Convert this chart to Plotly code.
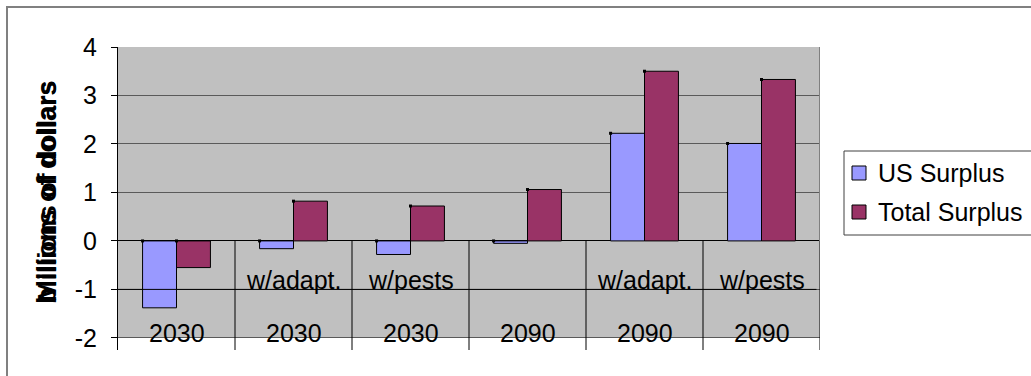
import plotly.graph_objects as go

# Scenario categories (two-level labels) and surplus values, billions of dollars
scenario = ["", "w/adapt.", "w/pests", "", "w/adapt.", "w/pests"]
year = ["2030", "2030", "2030", "2090", "2090", "2090"]
us_surplus = [-1.38, -0.16, -0.28, -0.05, 2.22, 2.01]
total_surplus = [-0.55, 0.82, 0.72, 1.06, 3.50, 3.33]
y_ticks = [-2, -1, 0, 1, 2, 3, 4]
y_tick_text = ["-2", "-1", "0", "1", "2", "3", "4"]
series_names = ["US Surplus", "Total Surplus"]

FONT = "Liberation Sans, Arial, sans-serif"
BLUE = "#9999FF"
PLUM = "#993366"
BAR_W = 0.29
pos = list(range(len(year)))

W, H = 1031, 376
ML, MR, MT, MB = 118, 211, 47, 26
PW, PH = W - ML - MR, H - MT - MB


def px_x(x):
    return (x - ML) / PW


def px_y(y):
    return (H - MB - y) / PH


fig = go.Figure()
fig.add_bar(x=pos, y=us_surplus, name=series_names[0],
            marker=dict(color=BLUE, line=dict(color="black", width=1)))
fig.add_bar(x=pos, y=total_surplus, name=series_names[1],
            marker=dict(color=PLUM, line=dict(color="black", width=1)))

# small handle squares at the upper-left corner of every bar
hx = [p - BAR_W for p in pos] + [p for p in pos]
hy = [max(v, 0) for v in us_surplus] + [max(v, 0) for v in total_surplus]
fig.add_scatter(x=hx, y=hy, mode="markers", showlegend=False, hoverinfo="skip",
                marker=dict(symbol="square", size=3, color="black"), cliponaxis=False)

shapes = [
    # grey plotting area
    dict(type="rect", xref="x", yref="y", x0=-0.5, x1=5.5, y0=-2, y1=4,
         fillcolor="#C0C0C0", line=dict(width=0), layer="below"),
    # right-hand edge shading of the plotting area
    dict(type="line", xref="x", yref="y", x0=5.5, x1=5.5, y0=0, y1=4,
         line=dict(color="#808080", width=2)),
    # separator between the two label rows
    dict(type="line", xref="x", yref="y", x0=-0.5, x1=5.47, y0=-1, y1=-1,
         line=dict(color="black", width=1)),
    # chart-area frame
    dict(type="rect", xref="paper", yref="paper", x0=px_x(7), x1=1.6, y0=-0.6, y1=px_y(7),
         line=dict(color="#808080", width=2), fillcolor="rgba(0,0,0,0)", layer="below"),
    # legend box
    dict(type="rect", xref="paper", yref="paper", x0=px_x(844), x1=px_x(1040),
         y0=px_y(235), y1=px_y(151), line=dict(color="#404040", width=1), fillcolor="white"),
]
# category dividers running below the zero line
for p in pos:
    shapes.append(dict(type="line", xref="x", yref="y", x0=p + 0.5, x1=p + 0.5, y0=0, y1=-2.25,
                       line=dict(color="black", width=1)))

annotations = []
for p, s, yr in zip(pos, scenario, year):
    if s:
        annotations.append(dict(x=p, y=-0.81, xref="x", yref="y", text=s, showarrow=False,
                                font=dict(family=FONT, size=25, color="black"), yanchor="middle"))
    annotations.append(dict(x=p, y=-1.89, xref="x", yref="y", text=yr, showarrow=False,
                            font=dict(family=FONT, size=25, color="black"), yanchor="middle"))

# legend entries
for name, col, cy in zip(series_names, [BLUE, PLUM], [173, 212]):
    shapes.append(dict(type="rect", xref="paper", yref="paper", x0=px_x(852), x1=px_x(866),
                       y0=px_y(cy + 7), y1=px_y(cy - 7), fillcolor=col,
                       line=dict(color="black", width=1)))
    annotations.append(dict(x=px_x(876), y=px_y(cy), xref="paper", yref="paper", text=name,
                            showarrow=False, xanchor="left", yanchor="middle",
                            font=dict(family=FONT, size=25, color="black")))

# two overlapping axis titles
for txt, sz in [("billions of dollars", 27), ("Millions of dollars", 26)]:
    annotations.append(dict(x=px_x(47), y=px_y(192), xref="paper", yref="paper",
                            text="<b>%s</b>" % txt, textangle=-90, showarrow=False,
                            xanchor="center", yanchor="middle",
                            font=dict(family=FONT, size=sz, color="black")))

fig.update_layout(
    width=W, height=H,
    margin=dict(l=ML, r=MR, t=MT, b=MB),
    paper_bgcolor="white", plot_bgcolor="white",
    barmode="group", bargap=0.42, bargroupgap=0,
    showlegend=False,
    font=dict(family=FONT, size=25, color="black"),
    shapes=shapes, annotations=annotations,
    xaxis=dict(range=[-0.5, 5.5], showticklabels=False, showgrid=False, zeroline=False,
               showline=False, ticks=""),
    yaxis=dict(range=[-2.25, 4], tickvals=y_ticks, ticktext=y_tick_text,
               showgrid=True, gridcolor="#5a5a5a", gridwidth=1,
               zeroline=True, zerolinecolor="black", zerolinewidth=1,
               showline=True, linecolor="black", linewidth=1,
               ticks="outside", ticklen=6, tickcolor="black", ticklabelstandoff=9,
               tickfont=dict(family=FONT, size=25, color="black")),
)

fig.write_html("out.html")
